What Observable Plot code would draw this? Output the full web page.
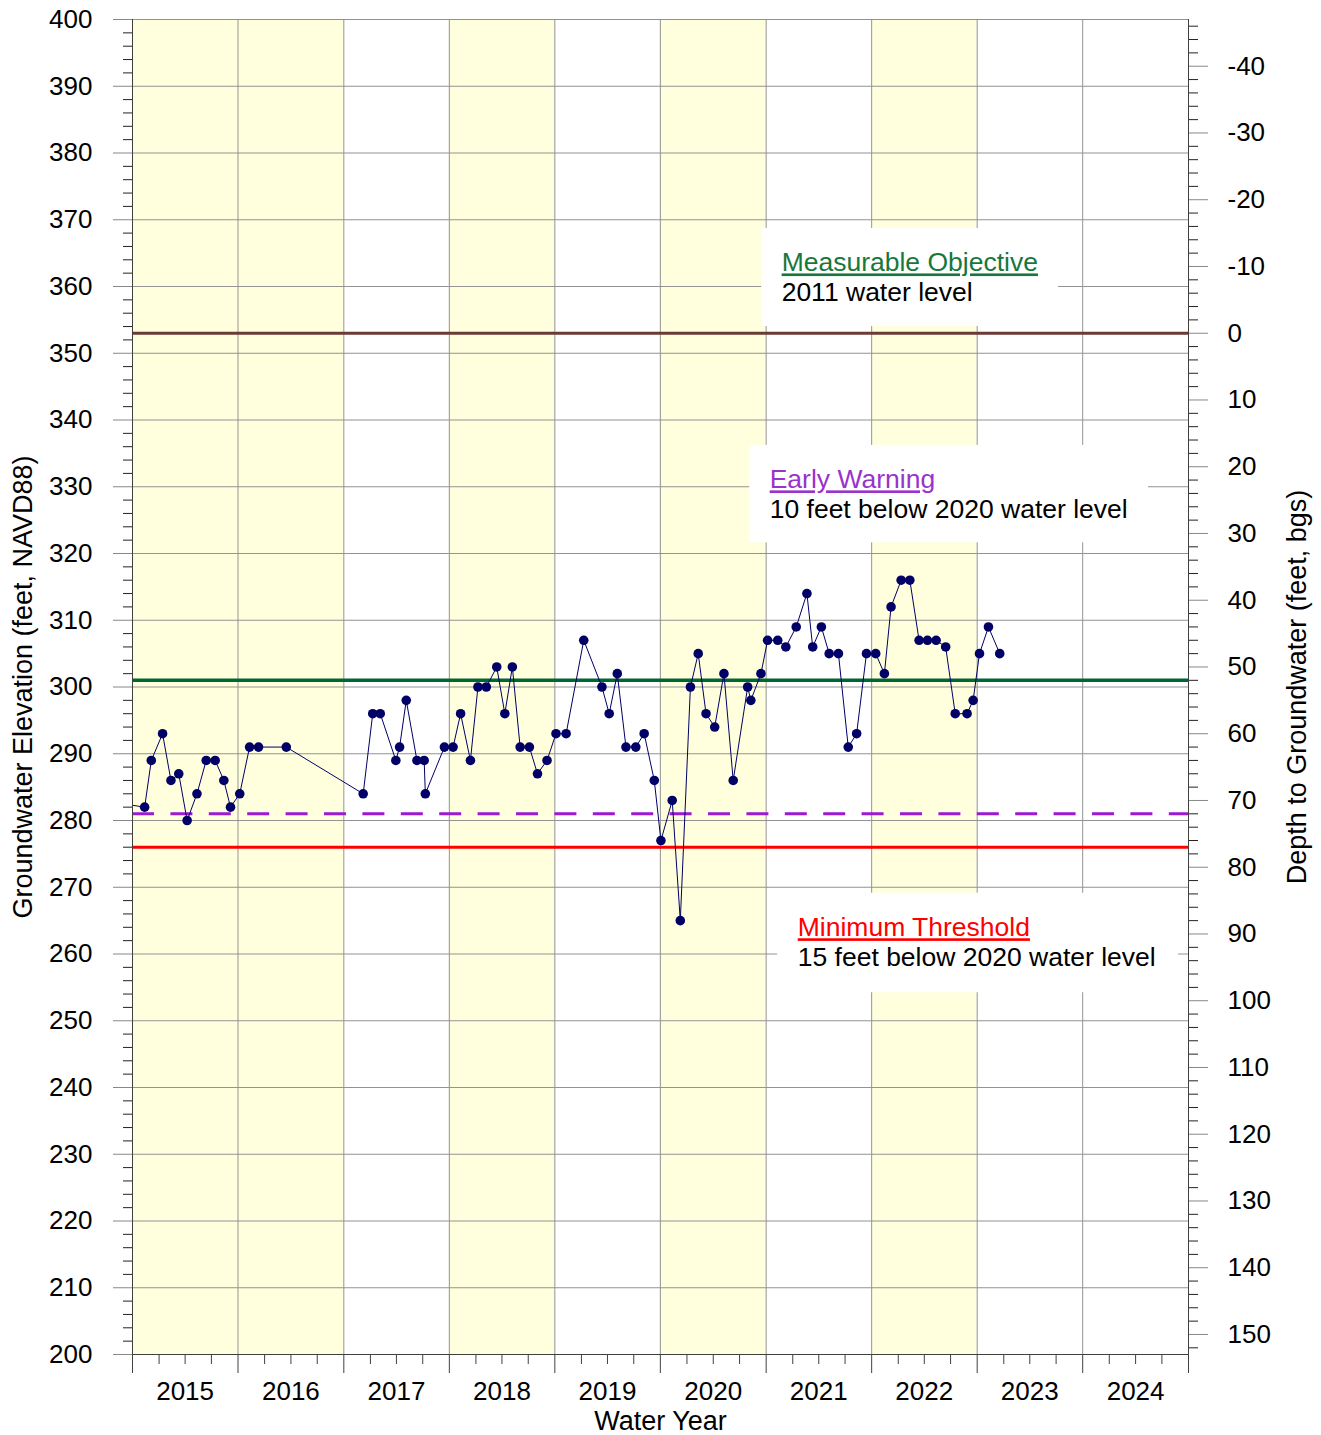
<!DOCTYPE html>
<html>
<head>
<meta charset="utf-8">
<script src="https://cdn.jsdelivr.net/npm/d3@7"></script>
<script src="https://cdn.jsdelivr.net/npm/@observablehq/plot@0.6"></script>
<style>
  html, body { margin: 0; padding: 0; background: #fff; }
</style>
</head>
<body>
<div id="chart"></div>
<script>
// Groundwater elevation measurements (feet, NAVD88)
const sampleDates = [
  "2014-06-13", "2014-11-12", "2014-12-05",
  "2015-01-13", "2015-02-11", "2015-03-10", "2015-04-08", "2015-05-12", "2015-06-13",
  "2015-07-14", "2015-08-13", "2015-09-05", "2015-10-07", "2015-11-10", "2015-12-11",
  "2016-03-16", "2016-12-07",
  "2017-01-09", "2017-02-04", "2017-03-30", "2017-04-12", "2017-05-05", "2017-06-11",
  "2017-07-06", "2017-07-10", "2017-09-14", "2017-10-14", "2017-11-09", "2017-12-13",
  "2018-01-08", "2018-02-06", "2018-03-14", "2018-04-11", "2018-05-07", "2018-06-03",
  "2018-07-05", "2018-08-02", "2018-09-04", "2018-10-05", "2018-11-09",
  "2019-01-09", "2019-03-13", "2019-04-07", "2019-05-05", "2019-06-04", "2019-07-08",
  "2019-08-06", "2019-09-10", "2019-10-03", "2019-11-11", "2019-12-09",
  "2020-01-13", "2020-02-09", "2020-03-07", "2020-04-06", "2020-05-08", "2020-06-09",
  "2020-07-29", "2020-08-09", "2020-09-13", "2020-10-06", "2020-11-10", "2020-12-08",
  "2021-01-13", "2021-02-19", "2021-03-11", "2021-04-10", "2021-05-07", "2021-06-08",
  "2021-07-12", "2021-08-10", "2021-09-13", "2021-10-15", "2021-11-14", "2021-12-07",
  "2022-01-11", "2022-02-10", "2022-03-14", "2022-04-12", "2022-05-12", "2022-06-14",
  "2022-07-17", "2022-08-27", "2022-09-17", "2022-10-09", "2022-11-09", "2022-12-18"
];
const elevations = [
  283, 282, 289,
  293, 286, 287, 280, 284, 289,
  289, 286, 282, 284, 291, 291,
  291, 284,
  296, 296, 289, 291, 298, 289,
  289, 284, 291, 291, 296, 289,
  300, 300, 303, 296, 303, 291,
  291, 287, 289, 293, 293,
  307, 300, 296, 302, 291, 291,
  293, 286, 277, 283, 265,
  300, 305, 296, 294, 302, 286,
  300, 298, 302, 307, 307, 306,
  309, 314, 306, 309, 305, 305,
  291, 293, 305, 305, 302, 312,
  316, 316, 307, 307, 307, 306,
  296, 296, 298, 305, 309, 305
];

// Water years on the axis, and the ones drawn with a shaded band
const waterYears = [2015, 2016, 2017, 2018, 2019, 2020, 2021, 2022, 2023, 2024];
const shadedWaterYears = [2015, 2016, 2018, 2020, 2022];

// Reference levels (feet, NAVD88)
const groundSurface = 353;
const measurableObjective = 301;
const earlyWarning = 281;
const minimumThreshold = 276;

// Annotation text
const annotationHeads = ["Measurable Objective", "Early Warning", "Minimum Threshold"];
const annotationNotes = ["2011 water level", "10 feet below 2020 water level", "15 feet below 2020 water level"];

// ---------------------------------------------------------------------------

const FONT = "'Liberation Sans', Arial, Helvetica, sans-serif";
const FS = 26;
const TITLE_FS = 27;

const utc = (y, m, d) => new Date(Date.UTC(y, m, d));
const wyStart = wy => utc(wy - 1, 9, 1);            // water year begins Oct 1
const fromDecimal = t => {                            // decimal year -> Date
  const y = Math.floor(t);
  const a = Date.UTC(y, 0, 1), b = Date.UTC(y + 1, 0, 1);
  return new Date(a + (t - y) * (b - a));
};

const observations = sampleDates.map((d, i) => ({date: new Date(d + "T00:00:00Z"), elev: elevations[i]}));

const yearBoundaries = [wyStart(waterYears[0]), ...waterYears.map(wy => wyStart(wy + 1))];
const quarterTicks = waterYears.flatMap(wy => [utc(wy, 0, 1), utc(wy, 3, 1), utc(wy, 6, 1)]);
const yearMidpoints = waterYears.map(wy => utc(wy, 3, 1));

const colors = {
  band: "#ffffdd",
  grid: "#939393",
  axis: "#404040",
  data: "#000066",
  ground: "#6b3a34",
  objectiveLine: "#006633",
  warningLine: "#9c1ad4",
  threshold: "#ff0000"
};
const headColors = ["#17783c", "#9933cc", "#ff0000"];

// Annotation boxes (decimal-year x extents, elevation y extents)
const boxes = [
  {head: 0, left: 2020.706, right: 2023.519, top: 368.7, bottom: 354.0},
  {head: 1, left: 2020.593, right: 2024.371, top: 336.2, bottom: 321.6},
  {head: 2, left: 2020.858, right: 2024.655, top: 269.1, bottom: 254.2}
].map(b => ({
  ...b,
  x1: fromDecimal(b.left), x2: fromDecimal(b.right),
  headText: annotationHeads[b.head], noteText: annotationNotes[b.head], color: headColors[b.head]
}));

// Depth below ground surface shown on the right-hand axis
const depthMajor = d3.range(-40, 151, 10);
const depthMinor = d3.range(-46, 153, 2).filter(d => d % 10 !== 0);

const chart = Plot.plot({
  width: 1321,
  height: 1435,
  marginLeft: 132,
  marginRight: 133,
  marginTop: 19,
  marginBottom: 81,
  style: {fontFamily: FONT, fontSize: FS + "px", background: "#fff", color: "#000", overflow: "visible"},
  x: {type: "utc", domain: [wyStart(2015), wyStart(2025)], label: null},
  y: {domain: [200, 400], label: null},
  marks: [
    // shaded water years
    Plot.rect(shadedWaterYears, {x1: d => wyStart(d), x2: d => wyStart(d + 1), y1: 200, y2: 400, fill: colors.band}),

    // grid
    Plot.gridY({ticks: d3.range(200, 401, 10), stroke: colors.grid, strokeOpacity: 1, strokeWidth: 1}),
    Plot.gridX({ticks: yearBoundaries.slice(1, -1), stroke: colors.grid, strokeOpacity: 1, strokeWidth: 1}),

    // reference levels
    Plot.ruleY([groundSurface], {stroke: colors.ground, strokeWidth: 3}),
    Plot.ruleY([measurableObjective], {stroke: colors.objectiveLine, strokeWidth: 3.5}),
    Plot.ruleY([earlyWarning], {stroke: colors.warningLine, strokeWidth: 3, strokeDasharray: "22,16.4"}),
    Plot.ruleY([minimumThreshold], {stroke: colors.threshold, strokeWidth: 3}),

    // annotation boxes and labels
    Plot.rect(boxes, {x1: "x1", x2: "x2", y1: "bottom", y2: "top", fill: "#fff"}),
    Plot.text(boxes, {x: "x1", y: "top", text: "headText", fill: "color", textAnchor: "start", lineAnchor: "bottom",
      dx: 20, dy: 43, fontSize: 26.5}),
    Plot.text(boxes, {x: "x1", y: "top", text: "noteText", fill: "#000", textAnchor: "start", lineAnchor: "bottom",
      dx: 20, dy: 73, fontSize: 26.5}),

    // measurements
    Plot.line(observations, {x: "date", y: "elev", stroke: colors.data, strokeWidth: 1, clip: true}),
    Plot.dot(observations, {x: "date", y: "elev", r: 4.8, fill: colors.data, stroke: "none", clip: true}),

    // frame lines
    Plot.ruleX([wyStart(2015), wyStart(2025)], {stroke: colors.axis, strokeWidth: 1}),
    Plot.ruleY([200], {stroke: colors.axis, strokeWidth: 1}),

    // left axis: elevation
    Plot.axisY({anchor: "left", ticks: d3.range(200, 401, 10), tickSize: 19, tickPadding: 21,
      stroke: "#888", fontSize: FS, label: null}),
    Plot.axisY({anchor: "left", ticks: d3.range(202, 400, 2).filter(v => v % 10 !== 0), tickSize: 9,
      tickFormat: () => "", stroke: "#222", label: null}),

    // right axis: depth to groundwater
    Plot.axisY({anchor: "right", ticks: depthMajor.map(d => groundSurface - d), tickSize: 19, tickPadding: 20,
      tickFormat: v => String(Math.round(groundSurface - v)), stroke: "#888", fontSize: FS, label: null}),
    Plot.axisY({anchor: "right", ticks: depthMinor.map(d => groundSurface - d), tickSize: 9,
      tickFormat: () => "", stroke: "#222", label: null}),

    // bottom axis: water years
    Plot.axisX({ticks: yearBoundaries, tickSize: 19, tickFormat: () => "", stroke: colors.axis, label: null}),
    Plot.axisX({ticks: quarterTicks, tickSize: 10, tickFormat: () => "", stroke: colors.axis, label: null}),
    Plot.axisX({ticks: yearMidpoints, tickSize: 0, tickPadding: 27, tickFormat: d => String(d.getUTCFullYear()),
      fontSize: FS, label: null}),

    // axis titles
    Plot.text(["Groundwater Elevation (feet, NAVD88)"], {text: d => d, frameAnchor: "left", dx: -109, rotate: -90,
      textAnchor: "middle", lineAnchor: "middle", fontSize: TITLE_FS, fill: "#000"}),
    Plot.text(["Depth to Groundwater (feet, bgs)"], {text: d => d, frameAnchor: "right", dx: 109, rotate: -90,
      textAnchor: "middle", lineAnchor: "middle", fontSize: TITLE_FS, fill: "#000"}),
    Plot.text(["Water Year"], {text: d => d, frameAnchor: "bottom", dy: 67,
      textAnchor: "middle", lineAnchor: "middle", fontSize: TITLE_FS, fill: "#000"})
  ]
});

// underline the annotation headings
d3.select(chart).selectAll("text")
  .filter(function () { return annotationHeads.includes(this.textContent); })
  .attr("text-decoration", "underline");

document.getElementById("chart").appendChild(chart);
</script>
</body>
</html>
